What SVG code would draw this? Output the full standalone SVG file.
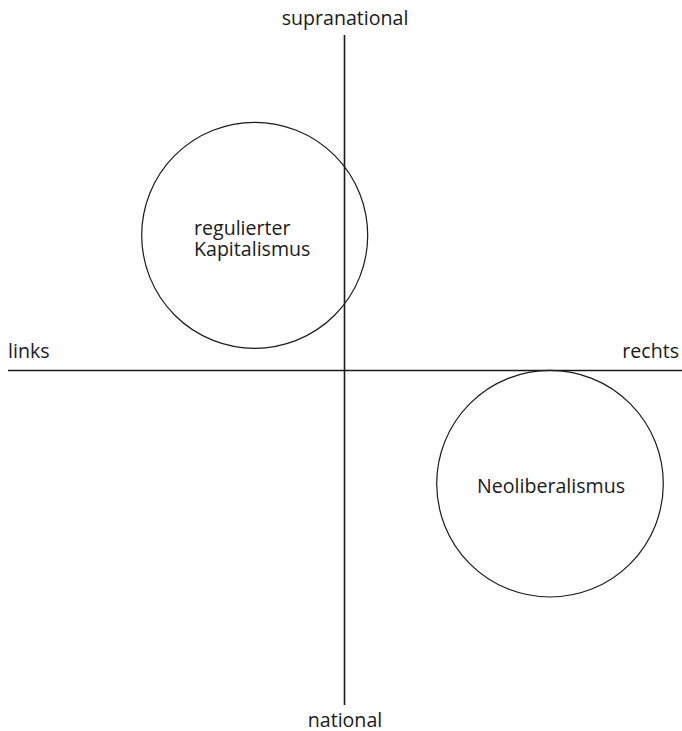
<svg xmlns="http://www.w3.org/2000/svg" width="682" height="731" viewBox="0 0 682 731">
  <style>
    .axis { stroke: #1a1a1a; stroke-width: 1.6; fill: none; }
    .bubble { stroke: #1a1a1a; stroke-width: 1.2; fill: none; }
    text { font-family: "Open Sans", "Noto Sans", sans-serif; font-size: 19.6px; fill: #1a1a1a; }
  </style>
  <rect width="682" height="731" fill="#ffffff"/>
  <g id="connectors">
    <line class="axis" x1="344.5" y1="35" x2="344.5" y2="705"/>
    <line class="axis" x1="8" y1="370.5" x2="682" y2="370.5"/>
  </g>
  <g id="axis-labels">
    <text x="345" y="25" text-anchor="middle">supranational</text>
    <text x="345" y="727" text-anchor="middle">national</text>
    <text x="8" y="358">links</text>
    <text x="679" y="358" text-anchor="end">rechts</text>
  </g>
  <g id="regulierter-kapitalismus">
    <circle class="bubble" cx="254.7" cy="235.3" r="113"/>
    <text x="194" y="235">regulierter</text>
    <text x="194" y="256">Kapitalismus</text>
  </g>
  <g id="neoliberalismus">
    <circle class="bubble" cx="550" cy="483.7" r="113.3"/>
    <text x="551" y="493" text-anchor="middle">Neoliberalismus</text>
  </g>
</svg>
